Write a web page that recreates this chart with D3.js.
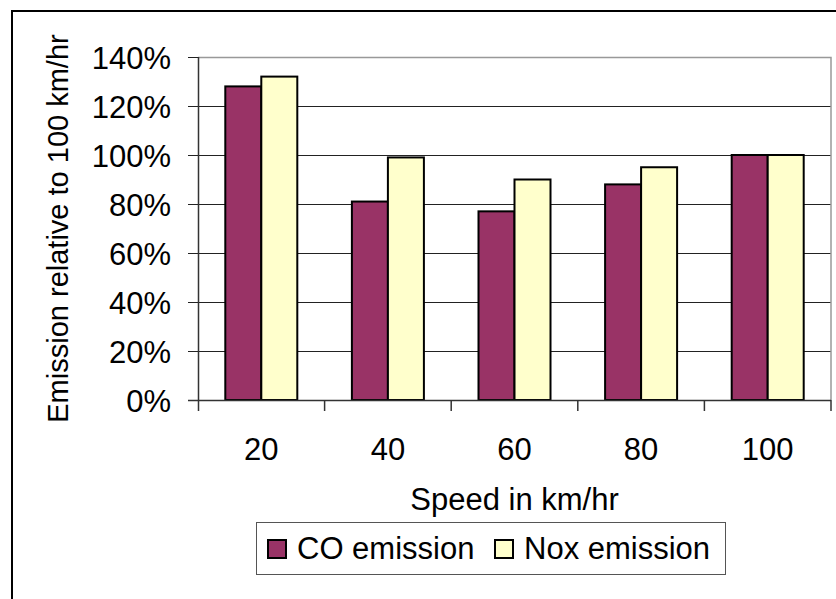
<!DOCTYPE html>
<html lang="en">
<head>
    <meta charset="utf-8">
    <title>Emission relative to 100 km/hr</title>
    <style>
        body { margin : 0; background : #fff; }
        text { font-family : Arial, "Liberation Sans", sans-serif; fill : #000; }
    </style>
</head>
<body>
    <div id="chart"></div>

    <script src="https://cdn.jsdelivr.net/npm/d3@7"></script>
    <script>

    var speeds = [ "20" , "40" , "60" , "80" , "100" ];
    var co_emission = [ 128 , 81 , 77 , 88 , 100 ];
    var nox_emission = [ 132 , 99 , 90 , 95 , 100 ];
    var series_names = [ "CO emission" , "Nox emission" ];
    var series_colors = [ "#993366" , "#ffffcc" ];
    var y_ticks = [ 0 , 20 , 40 , 60 , 80 , 100 , 120 , 140 ];

    var width = 836 , height = 599;
    var plot = { left : 198 , right : 831 , top : 57 , bottom : 400 };

    var svg = d3.select( "#chart" ).append( "svg" )
        .attr( "width" , width )
        .attr( "height" , height );

    svg.append( "rect" )
        .attr( "width" , width ).attr( "height" , height )
        .style( "fill" , "#fff" );

    // outer chart frame (clipped at right / bottom as in the original)
    svg.append( "rect" )
        .attr( "x" , 12 ).attr( "y" , 11 )
        .attr( "width" , 900 ).attr( "height" , 700 )
        .style( "fill" , "none" ).style( "stroke" , "#000" ).style( "stroke-width" , 2 );

    var x = d3.scaleBand()
        .domain( speeds )
        .range( [ plot.left , plot.right ] );

    var x_inner = d3.scaleBand()
        .domain( series_names )
        .range( [ 0 , 72 ] );

    var y = d3.scaleLinear()
        .domain( [ 0 , 140 ] )
        .range( [ plot.bottom , plot.top ] );

    // gridlines
    svg.append( "g" ).selectAll( "line" )
        .data( y_ticks.slice( 1 , -1 ) )
        .enter().append( "line" )
            .attr( "x1" , plot.left ).attr( "x2" , plot.right )
            .attr( "y1" , function( d ) { return Math.round( y( d ) ) + 0.5; } )
            .attr( "y2" , function( d ) { return Math.round( y( d ) ) + 0.5; } )
            .style( "stroke" , "#222" ).style( "stroke-width" , 1 );

    // plot area border top / right
    svg.append( "path" )
        .attr( "d" , "M" + plot.left + "," + ( plot.top + 0.5 ) + "H" + plot.right + "V" + plot.bottom )
        .style( "fill" , "none" ).style( "stroke" , "#999" ).style( "stroke-width" , 1.5 );

    // bars
    var rows = speeds.map( function( s , i ) {
        return { speed : s , values : [ co_emission[i] , nox_emission[i] ] };
    } );

    var group = svg.append( "g" ).selectAll( "g" )
        .data( rows )
        .enter().append( "g" )
            .attr( "transform" , function( d ) {
                return "translate(" + ( x( d.speed ) + ( x.bandwidth() - 72 ) / 2 ) + ",0)";
            } );

    group.selectAll( "rect" )
        .data( function( d ) { return d.values.map( function( v , j ) { return { name : series_names[j] , value : v , k : j }; } ); } )
        .enter().append( "rect" )
            .attr( "x" , function( d ) { return x_inner( d.name ); } )
            .attr( "y" , function( d ) { return y( d.value ); } )
            .attr( "width" , x_inner.bandwidth() )
            .attr( "height" , function( d ) { return y( 0 ) - y( d.value ); } )
            .style( "fill" , function( d ) { return series_colors[ d.k ]; } )
            .style( "stroke" , "#000" ).style( "stroke-width" , 2 );

    // y axis
    var y_axis = svg.append( "g" )
        .attr( "transform" , "translate(" + plot.left + ",0)" )
        .call( d3.axisLeft( y ).tickValues( y_ticks ).tickSize( 10 ).tickPadding( 17 )
            .tickFormat( function( d ) { return d + "%"; } ) );
    y_axis.select( ".domain" ).attr( "d" , "M0.5," + plot.top + "V" + ( plot.bottom + 11 ) )
        .style( "stroke" , "#333" ).style( "stroke-width" , 1.5 );
    y_axis.selectAll( ".tick line" ).style( "stroke" , "#222" );
    y_axis.selectAll( "text" ).style( "font-size" , "31px" ).attr( "dy" , "0.36em" );

    // x axis
    var x_axis = svg.append( "g" )
        .attr( "transform" , "translate(0," + plot.bottom + ")" );
    x_axis.append( "line" )
        .attr( "x1" , plot.left - 10 ).attr( "x2" , plot.right )
        .attr( "y1" , 0.5 ).attr( "y2" , 0.5 )
        .style( "stroke" , "#333" ).style( "stroke-width" , 1.5 );
    x_axis.selectAll( ".sep" )
        .data( speeds.slice( 1 ).concat( [ "end" ] ) )
        .enter().append( "line" )
            .attr( "class" , "sep" )
            .attr( "x1" , function( d , i ) { return x( speeds[i] ) + x.bandwidth(); } )
            .attr( "x2" , function( d , i ) { return x( speeds[i] ) + x.bandwidth(); } )
            .attr( "y1" , 0 ).attr( "y2" , 11 )
            .style( "stroke" , "#333" ).style( "stroke-width" , 1.5 );
    x_axis.selectAll( ".lbl" )
        .data( speeds )
        .enter().append( "text" )
            .attr( "class" , "lbl" )
            .attr( "x" , function( d ) { return x( d ) + x.bandwidth() / 2; } )
            .attr( "y" , 60 )
            .attr( "text-anchor" , "middle" )
            .style( "font-size" , "31px" )
            .text( function( d ) { return d; } );

    // axis titles
    svg.append( "text" )
        .attr( "x" , ( plot.left + plot.right ) / 2 )
        .attr( "y" , 510 )
        .attr( "text-anchor" , "middle" )
        .style( "font-size" , "31px" )
        .text( "Speed in km/hr" );

    svg.append( "text" )
        .attr( "transform" , "translate(68," + ( plot.top + plot.bottom ) / 2 + ") rotate(-90)" )
        .attr( "text-anchor" , "middle" )
        .style( "font-size" , "29px" )
        .text( "Emission relative to 100 km/hr" );

    // legend
    var legend = svg.append( "g" ).attr( "transform" , "translate(256,522)" );
    legend.append( "rect" )
        .attr( "x" , 0.5 ).attr( "y" , 0.5 )
        .attr( "width" , 469 ).attr( "height" , 52 )
        .style( "fill" , "#fff" ).style( "stroke" , "#555" ).style( "stroke-width" , 1 );

    var legend_x = [ 12 , 239 ];
    var item = legend.selectAll( ".item" )
        .data( series_names )
        .enter().append( "g" )
            .attr( "class" , "item" )
            .attr( "transform" , function( d , i ) { return "translate(" + legend_x[i] + ",0)"; } );
    item.append( "rect" )
        .attr( "x" , 0 ).attr( "y" , 18 )
        .attr( "width" , 18 ).attr( "height" , 18 )
        .style( "fill" , function( d , i ) { return series_colors[i]; } )
        .style( "stroke" , "#000" ).style( "stroke-width" , 2 );
    item.append( "text" )
        .attr( "x" , 29 ).attr( "y" , 37 )
        .style( "font-size" , "31px" )
        .text( function( d ) { return d; } );

    </script>
</body>
</html>
